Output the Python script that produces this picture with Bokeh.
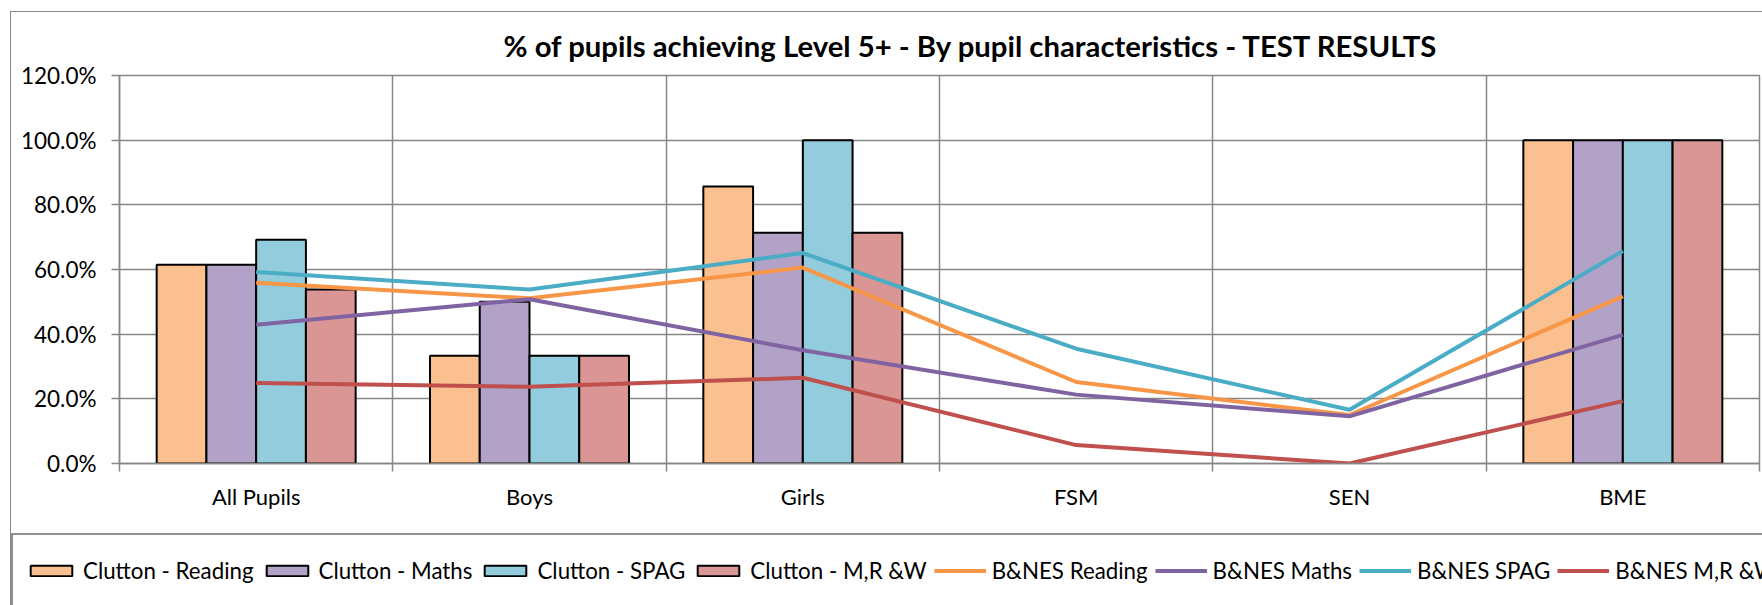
from bokeh.plotting import figure
from bokeh.layouts import column
from bokeh.models import (Range1d, FixedTicker, NumeralTickFormatter, Legend, LegendItem,
                          ColumnDataSource)
from bokeh.transform import dodge
from bokeh.embed import file_html
from bokeh.resources import INLINE

nan = float("nan")

# ---- data ----
categories = ["All Pupils", "Boys", "Girls", "FSM", "SEN", "BME"]
clutton_reading = [0.615, 0.333, 0.857, nan, nan, 1.0]
clutton_maths = [0.615, 0.500, 0.714, nan, nan, 1.0]
clutton_spag = [0.692, 0.333, 1.000, nan, nan, 1.0]
clutton_mrw = [0.538, 0.333, 0.714, nan, nan, 1.0]
bnes_reading = [0.559, 0.511, 0.606, 0.252, 0.150, 0.517]
bnes_maths = [0.429, 0.508, 0.350, 0.213, 0.146, 0.398]
bnes_spag = [0.592, 0.538, 0.651, 0.355, 0.166, 0.657]
bnes_mrw = [0.249, 0.237, 0.265, 0.057, 0.0, 0.193]
y_ticks = [0.0, 0.2, 0.4, 0.6, 0.8, 1.0, 1.2]

bar_series = [
    ("Clutton - Reading", "c_read", clutton_reading, "#FAC090"),
    ("Clutton - Maths", "c_math", clutton_maths, "#B3A2C7"),
    ("Clutton - SPAG", "c_spag", clutton_spag, "#93CDDD"),
    ("Clutton - M,R &W", "c_mrw", clutton_mrw, "#D99694"),
]
line_series = [
    ("B&NES Reading", "b_read", bnes_reading, "#F79646"),
    ("B&NES Maths", "b_math", bnes_maths, "#8064A2"),
    ("B&NES SPAG", "b_spag", bnes_spag, "#4BACC6"),
    ("B&NES M,R &W", "b_mrw", bnes_mrw, "#C0504D"),
]

n = len(categories)
centers = [i + 0.5 for i in range(n)]
boundaries = [float(i) for i in range(n + 1)]

data = {"x": centers, "cat": categories}
for _, key, vals, _ in bar_series + line_series:
    data[key] = vals
src = ColumnDataSource(data)

GRID = "#868686"
FONT = "Lato"
OX, OY = 11, 12          # canvas origin on the page (inside chart-area border)
SPLIT = 515              # page y where the legend strip starts
W = 1762 - OX
H1 = SPLIT - OY
H2 = 605 - SPLIT
FRAME_LEFT = 119 - OX

p = figure(width=W, height=H1, output_backend="svg", toolbar_location=None,
           x_range=Range1d(0, n), y_range=Range1d(0, 1.2),
           min_border_left=FRAME_LEFT, min_border_right=3, min_border_top=73 - OY,
           min_border_bottom=H1 - (463 - OY))
p.background_fill_color = "white"
p.border_fill_color = "white"
p.outline_line_color = GRID
p.outline_line_width = 1.5

# title
p.title.text = "% of pupils achieving Level 5+ - By pupil characteristics - TEST RESULTS"
p.title.text_font = FONT
p.title.text_font_style = "bold"
p.title.text_font_size = "29.3px"
p.title.align = "left"
p.title.offset = 384
p.title.standoff = 26
p.title.text_color = "black"

# y axis
yax = p.yaxis[0]
yax.ticker = FixedTicker(ticks=y_ticks)
yax.formatter = NumeralTickFormatter(format="0.0%")
yax.major_tick_out = 8
yax.major_tick_in = 0
yax.minor_tick_line_color = None
yax.axis_line_color = GRID
yax.axis_line_width = 1.5
yax.major_tick_line_color = GRID
yax.major_tick_line_width = 1.5
yax.major_label_standoff = 15
yax.major_label_text_font = FONT
yax.major_label_text_font_size = "22.5px"
yax.major_label_text_color = "black"

# x axis
xax = p.xaxis[0]
xax.ticker = FixedTicker(ticks=centers, minor_ticks=boundaries)
xax.major_label_overrides = {c: name for c, name in zip(centers, categories)}
xax.major_tick_line_color = None
xax.major_tick_out = 0
xax.major_tick_in = 0
xax.minor_tick_out = 8
xax.minor_tick_in = 0
xax.minor_tick_line_color = GRID
xax.minor_tick_line_width = 1.5
xax.axis_line_color = GRID
xax.axis_line_width = 1.5
xax.major_label_standoff = 11
xax.major_label_text_font = FONT
xax.major_label_text_font_size = "22px"
xax.major_label_text_color = "black"

# grids
p.xgrid.grid_line_color = None
p.xgrid.minor_grid_line_color = GRID
p.xgrid.minor_grid_line_width = 1.5
p.ygrid.grid_line_color = GRID
p.ygrid.grid_line_width = 1.5

# legend strip (second figure, no axes; its y range keeps the proxies out of view)
p2 = figure(width=W, height=H2, output_backend="svg", toolbar_location=None,
            x_range=Range1d(0, n), y_range=Range1d(5, 6),
            x_axis_location=None, y_axis_location=None,
            min_border=0, min_border_left=0, min_border_right=0,
            min_border_top=0, min_border_bottom=0)
p2.grid.visible = False
p2.outline_line_color = None
p2.background_fill_color = "white"
p2.border_fill_color = "white"

aligned = True
if "frame_align" in p2.properties():
    p.frame_align = False
    p2.frame_align = False
    aligned = False

# bars
bw = 0.182
LINE_W = 4
items = []
for j, (label, key, _, color) in enumerate(bar_series):
    off = (j - 1.5) * bw
    p.vbar(x=dodge("x", off, range=p.x_range), top=key, width=bw, bottom=0,
           source=src, fill_color=color, line_color="black", line_width=2)
    proxy = p2.vbar(x="x", top=key, width=bw, bottom=0, source=src,
                    fill_color=color, line_color="black", line_width=2)
    items.append(LegendItem(label=label, renderers=[proxy]))

# lines
for label, key, _, color in line_series:
    p.line(x="x", y=key, source=src, line_color=color, line_width=LINE_W)
    proxy = p2.line(x="x", y=key, source=src, line_color=color, line_width=LINE_W)
    items.append(LegendItem(label=label, renderers=[proxy]))

LEG_TOP = 532 - SPLIT
LEG_H = 70
leg_x = (16 - OX) - (FRAME_LEFT if aligned else 0) - 5
legend = Legend(items=items, orientation="horizontal",
                location=(leg_x, H2 - (LEG_TOP + LEG_H) - 5),
                glyph_width=52, glyph_height=13, label_height=46,
                label_standoff=6, spacing=7,
                padding=12, margin=0, border_line_color="#222222",
                border_line_width=2, background_fill_color="white",
                background_fill_alpha=1.0,
                label_text_font=FONT, label_text_font_size="22.3px",
                label_text_color="black")
p2.add_layout(legend, "center")

layout = column(p, p2, spacing=0)
layout.margin = (OY - 1, 0, 0, OX - 1)
layout.styles = {"border-left": "1px solid #868686", "border-top": "1px solid #868686"}

open("out.html", "w").write(file_html(layout, INLINE))
